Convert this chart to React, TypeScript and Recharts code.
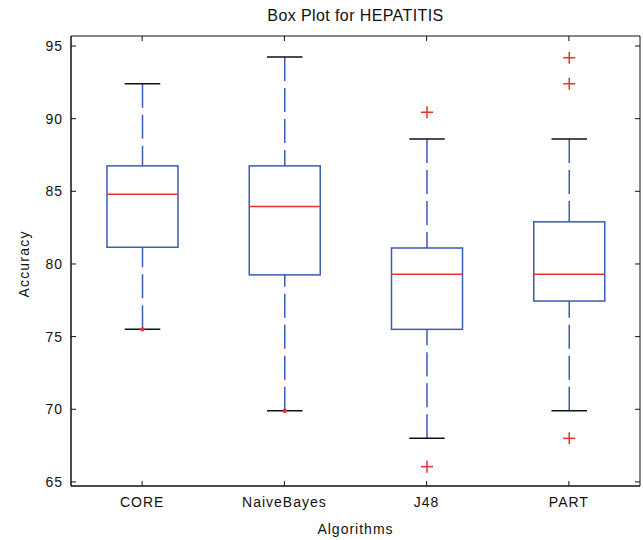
import { BarChart, Bar, XAxis, YAxis, ReferenceArea } from 'recharts';

const algorithms = ['CORE', 'NaiveBayes', 'J48', 'PART'];
const lowerWhisker = [75.5, 69.9, 68.0, 69.9];
const firstQuartile = [81.15, 79.25, 75.5, 77.45];
const medians = [84.8, 83.95, 79.3, 79.3];
const thirdQuartile = [86.75, 86.75, 81.1, 82.9];
const upperWhisker = [92.4, 94.25, 88.6, 88.6];
const outliers: number[][] = [[], [], [90.45, 66.05], [94.2, 92.4, 68.0]];
// little red marks sitting on the lower whisker ends
const endMarks: (number | null)[] = [75.5, 69.9, null, null];

const yTicks = [65, 70, 75, 80, 85, 90, 95];
const Y_MIN = 64.72;
const Y_MAX = 95.69;

const W = 643;
const H = 540;
const MARGIN = { top: 36, right: 3, bottom: 0, left: 0 };
const Y_AXIS_W = 71;
const X_AXIS_H = 54;
const PLOT_W = W - MARGIN.left - MARGIN.right - Y_AXIS_W;
const PLOT_H = H - MARGIN.top - MARGIN.bottom - X_AXIS_H;
const Y_TICK_GAP = 8;
const X_TICK_GAP = 11;

const FONT = '"Liberation Sans", Arial, sans-serif';
const BLUE = '#3b5bb5';
const RED = '#ee3030';
const INK = '#111';

const rows = algorithms.map((name, i) => ({
  name,
  range: [lowerWhisker[i], upperWhisker[i]],
  q1: firstQuartile[i],
  med: medians[i],
  q3: thirdQuartile[i],
  out: outliers[i],
  mark: endMarks[i],
}));

function BoxShape(props: any) {
  const { x, y, width, height, payload } = props;
  const [lo, hi] = payload.range;
  const top = Math.min(y, y + height);
  const bottom = Math.max(y, y + height);
  const ppu = (bottom - top) / (hi - lo);
  const py = (v: number) => top + (hi - v) * ppu;
  const cx = x + width / 2;
  const cap = width / 4;

  return (
    <g>
      <line x1={cx} x2={cx} y1={py(hi)} y2={py(payload.q3)} stroke={BLUE} strokeWidth={1.5} strokeDasharray="24 7" />
      <line x1={cx} x2={cx} y1={py(lo)} y2={py(payload.q1)} stroke={BLUE} strokeWidth={1.5} strokeDasharray="24 7" />
      <line x1={cx - cap} x2={cx + cap} y1={py(hi)} y2={py(hi)} stroke={INK} strokeWidth={1.5} />
      <line x1={cx - cap} x2={cx + cap} y1={py(lo)} y2={py(lo)} stroke={INK} strokeWidth={1.5} />
      <rect x={x} y={py(payload.q3)} width={width} height={py(payload.q1) - py(payload.q3)} fill="none" stroke={BLUE} strokeWidth={1.5} />
      <line x1={x} x2={x + width} y1={py(payload.med)} y2={py(payload.med)} stroke={RED} strokeWidth={1.5} />
      {payload.out.map((v: number, k: number) => (
        <g key={k} stroke={RED} strokeWidth={1.5}>
          <line x1={cx - 6} x2={cx + 6} y1={py(v)} y2={py(v)} />
          <line x1={cx} x2={cx} y1={py(v) - 6} y2={py(v) + 6} />
        </g>
      ))}
      {payload.mark != null && <circle cx={cx} cy={py(payload.mark)} r={2.2} fill={RED} />}
    </g>
  );
}

function YTick({ x, y, payload }: any) {
  const ax = x + Y_TICK_GAP;
  return (
    <g>
      <text x={x} y={y} textAnchor="end" dominantBaseline="central" fontSize={14} letterSpacing={1} fill={INK} fontFamily={FONT}>
        {payload.value}
      </text>
      <line x1={ax} x2={ax + 5} y1={y} y2={y} stroke={INK} />
      <line x1={ax + PLOT_W} x2={ax + PLOT_W - 5} y1={y} y2={y} stroke={INK} />
    </g>
  );
}

function XTick({ x, y, payload }: any) {
  const ay = y - X_TICK_GAP;
  return (
    <g>
      <text x={x} y={y} dy="0.71em" textAnchor="middle" fontSize={14} letterSpacing={1} fill={INK} fontFamily={FONT}>
        {payload.value}
      </text>
      <line x1={x} x2={x} y1={ay} y2={ay - 5} stroke={INK} />
      <line x1={x} x2={x} y1={ay - PLOT_H} y2={ay - PLOT_H + 5} stroke={INK} />
    </g>
  );
}

function YLabel({ viewBox }: any) {
  const x = viewBox.x + 24;
  const y = viewBox.y + viewBox.height / 2 + 3;
  return (
    <text x={x} y={y} transform={`rotate(-90, ${x}, ${y})`} textAnchor="middle" dominantBaseline="central" fontSize={14} letterSpacing={1.2} fill={INK} fontFamily={FONT}>
      Accuracy
    </text>
  );
}

function XLabel({ viewBox }: any) {
  return (
    <text x={viewBox.x + viewBox.width / 2} y={viewBox.y + 48} textAnchor="middle" fontSize={14} letterSpacing={1} fill={INK} fontFamily={FONT}>
      Algorithms
    </text>
  );
}

export default function App() {
  return (
    <div style={{ position: 'absolute', left: 0, top: 0, width: W, height: H, background: '#fff' }}>
      <div
        style={{
          position: 'absolute',
          top: 6,
          left: MARGIN.left + Y_AXIS_W,
          width: PLOT_W,
          textAlign: 'center',
          fontFamily: FONT,
          fontSize: 16,
          letterSpacing: 0.4,
          color: INK,
          lineHeight: '20px',
        }}
      >
        Box Plot for HEPATITIS
      </div>
      <BarChart width={W} height={H} data={rows} margin={MARGIN}>
        <XAxis
          dataKey="name"
          height={X_AXIS_H}
          tickLine={false}
          tickSize={0}
          tickMargin={X_TICK_GAP}
          tick={<XTick />}
          axisLine={{ stroke: INK }}
          label={<XLabel />}
        />
        <YAxis
          type="number"
          domain={[Y_MIN, Y_MAX]}
          ticks={yTicks}
          allowDataOverflow
          width={Y_AXIS_W}
          tickLine={false}
          tickSize={0}
          tickMargin={Y_TICK_GAP}
          tick={<YTick />}
          axisLine={{ stroke: INK }}
          label={<YLabel />}
        />
        <ReferenceArea x1="CORE" x2="PART" y1={Y_MIN} y2={Y_MAX} fill="none" stroke={INK} strokeWidth={1} ifOverflow="visible" />
        <Bar dataKey="range" barSize={71} shape={<BoxShape />} isAnimationActive={false} />
      </BarChart>
    </div>
  );
}
